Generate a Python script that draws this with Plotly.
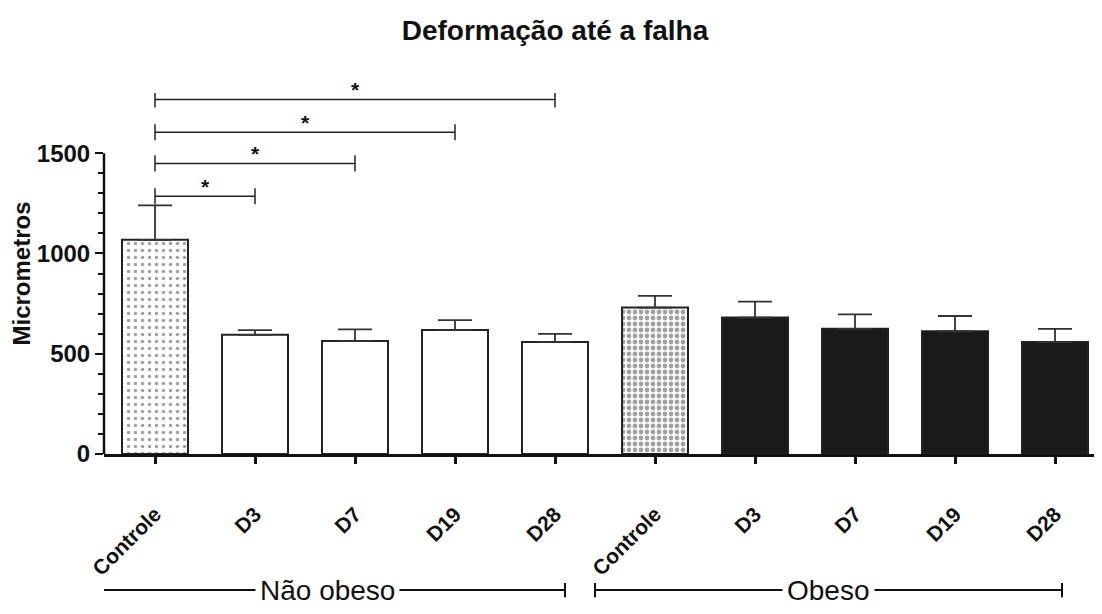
import plotly.graph_objects as go

groups = ["Não obeso", "Obeso"]
days = ["Controle", "D3", "D7", "D19", "D28"]
nao_obeso_mean = [1068, 594, 563, 618, 559]
nao_obeso_err = [172, 24, 58, 50, 40]
obeso_mean = [730, 680, 624, 612, 558]
obeso_err = [58, 80, 72, 76, 66]
# significance comparisons vs Controle (Não obeso): (target index, bracket height)
sig_pairs = [(1, 1285), (2, 1449), (3, 1604), (4, 1768)]

labels = days + days
means = nao_obeso_mean + obeso_mean
errs = nao_obeso_err + obeso_err
xpos = list(range(len(labels)))

fills = ["white"] * 5 + ["white"] + ["#1a1a1a"] * 4
shapes_pat = [".", "", "", "", "", ".", "", "", "", ""]
pat_size = [7, 6, 6, 6, 6, 6, 6, 6, 6, 6]
pat_solid = [0.2, 0.3, 0.3, 0.3, 0.3, 0.5, 0.3, 0.3, 0.3, 0.3]
pat_color = ["#666", "#444", "#444", "#444", "#444", "#333", "#444", "#444", "#444", "#444"]

FONT = "Liberation Sans, Arial"

fig = go.Figure()
fig.add_bar(
    x=xpos, y=means, width=0.66,
    marker=dict(
        color=fills,
        line=dict(color="#222", width=2),
        pattern=dict(shape=shapes_pat, fgcolor=pat_color, bgcolor="white",
                     size=pat_size, solidity=pat_solid),
    ),
    error_y=dict(type="data", symmetric=False, array=errs,
                 arrayminus=[0] * len(errs), color="#333",
                 thickness=1.8, width=17),
    showlegend=False,
)

shapes = []
annotations = []
tick = 40
for j, h in sig_pairs:
    shapes.append(dict(type="line", x0=0, x1=j, y0=h, y1=h, line=dict(color="#222", width=1.5)))
    for xx in (0, j):
        shapes.append(dict(type="line", x0=xx, x1=xx, y0=h + tick, y1=h - tick,
                           line=dict(color="#222", width=1.5)))
    annotations.append(dict(x=j / 2, y=h, text="<b>*</b>", showarrow=False, yshift=10,
                            font=dict(size=21, color="#111")))

# group brackets under the axis
gy = -0.377
for name, (a, b) in zip(groups, [(-0.65, 4.1), (4.4, 9.07)]):
    shapes.append(dict(type="line", xref="x", yref="paper", x0=a, x1=b, y0=gy, y1=gy,
                       line=dict(color="#111", width=2)))
    for xx in (a, b):
        shapes.append(dict(type="line", xref="x", yref="paper", x0=xx, x1=xx,
                           y0=gy - 0.02, y1=gy + 0.02, line=dict(color="#111", width=2)))
    annotations.append(dict(x=(a + b) / 2, y=gy, xref="x", yref="paper", text=name,
                            showarrow=False, bgcolor="white", yanchor="middle",
                            borderpad=4,
                            font=dict(size=28, color="#111", family=FONT)))

fig.update_layout(
    width=1094, height=606,
    margin=dict(l=96, r=2, t=85, b=160, autoexpand=False),
    paper_bgcolor="white", plot_bgcolor="white",
    font=dict(family=FONT, color="#111"),
    title=dict(text="<b>Deformação até a falha</b>", x=0.5, xanchor="center",
               yref="container", y=0.964, yanchor="middle", font=dict(size=28)),
    xaxis=dict(range=[-0.51, 9.45], tickvals=xpos, ticktext=[f"<b>{t}</b>" for t in labels],
               tickangle=-45, tickfont=dict(size=21), showline=True, linecolor="#111",
               linewidth=2.5, ticks="outside", ticklen=7, tickwidth=2.5, tickcolor="#111",
               ticklabelstandoff=30, automargin=False,
               showgrid=False, zeroline=False),
    yaxis=dict(range=[0, 1800], tickvals=[0, 500, 1000, 1500],
               ticktext=["<b>0</b>", "<b>500</b>", "<b>1000</b>", "<b>1500</b>"],
               tickfont=dict(size=24), ticks="outside", ticklen=8, tickwidth=2,
               tickcolor="#111", showline=False, showgrid=False, zeroline=False,
               automargin=False,
               minor=dict(tickvals=[v for v in range(100, 1500, 100) if v % 500],
                          ticks="outside", ticklen=5, tickwidth=2, tickcolor="#111"),
               title=dict(text="<b>Micrometros</b>", font=dict(size=24), standoff=12)),
    shapes=shapes + [dict(type="line", xref="paper", yref="y", x0=0, x1=0, y0=0, y1=1500,
                          line=dict(color="#111", width=2.5))],
    annotations=annotations,
)

fig.write_html("out.html")
